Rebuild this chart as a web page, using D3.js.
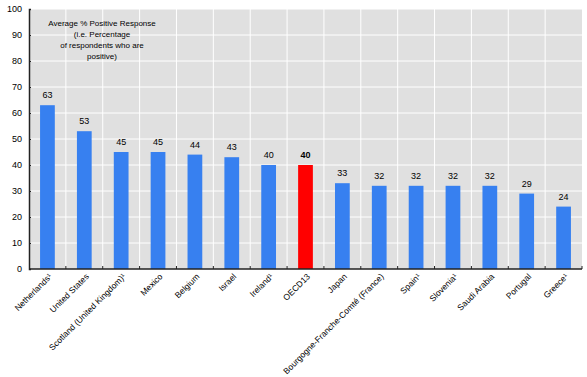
<!DOCTYPE html>
<html>
<head>
<meta charset="utf-8">
<script src="https://cdn.jsdelivr.net/npm/d3@7"></script>
<style>
  body { margin: 0; background: #fff; }
  text { font-family: "Liberation Sans", Arial, sans-serif; fill: #000; }
</style>
</head>
<body>
<script>
var categories = ["Netherlands\u00b9", "United States", "Scotland (United Kingdom)\u00b9", "Mexico", "Belgium",
  "Israel", "Ireland\u00b9", "OECD13", "Japan", "Bourgogne-Franche-Comt\u00e9 (France)", "Spain\u00b9",
  "Slovenia\u00b9", "Saudi Arabia", "Portugal", "Greece\u00b9"];
var values = [63, 53, 45, 45, 44, 43, 40, 40, 33, 32, 32, 32, 32, 29, 24];
var yTicks = [0, 10, 20, 30, 40, 50, 60, 70, 80, 90, 100];
var note = ["Average % Positive Response", "(i.e. Percentage", "of respondents who are", "positive)"];
var highlight = "OECD13";

var WIDTH = 587, HEIGHT = 377;
var LEFT = 29, RIGHT = 582, TOP = 9, BOTTOM = 269;

var svg = d3.select("body").append("svg")
  .attr("width", WIDTH)
  .attr("height", HEIGHT);

var x = d3.scaleBand()
  .domain(categories)
  .range([LEFT, RIGHT])
  .paddingInner(0.6)
  .paddingOuter(0.3);

var xb = d3.scaleBand().domain(categories).range([LEFT, RIGHT]);

var y = d3.scaleLinear()
  .domain([0, 100])
  .range([BOTTOM, TOP]);

// plot background
svg.append("rect")
  .attr("x", LEFT).attr("y", TOP)
  .attr("width", RIGHT - LEFT).attr("height", BOTTOM - TOP)
  .attr("fill", "#e0e0e0");

// horizontal grid
svg.append("g").selectAll("line")
  .data(yTicks.slice(1))
  .enter().append("line")
  .attr("x1", LEFT).attr("x2", RIGHT)
  .attr("y1", function (d) { return y(d); })
  .attr("y2", function (d) { return y(d); })
  .attr("stroke", "#fff").attr("stroke-width", 1);

// vertical grid at band edges
svg.append("g").selectAll("line")
  .data(categories.slice(1))
  .enter().append("line")
  .attr("x1", function (d) { return xb(d); })
  .attr("x2", function (d) { return xb(d); })
  .attr("y1", TOP).attr("y2", BOTTOM)
  .attr("stroke", "#fff").attr("stroke-width", 1);

// bars
svg.append("g").selectAll("rect")
  .data(values)
  .enter().append("rect")
  .attr("x", function (d, i) { return x(categories[i]); })
  .attr("width", x.bandwidth())
  .attr("y", function (d) { return y(d); })
  .attr("height", function (d) { return BOTTOM - y(d); })
  .attr("fill", function (d, i) { return categories[i] === highlight ? "#ff0000" : "#3780f0"; });

// value labels
svg.append("g").selectAll("text")
  .data(values)
  .enter().append("text")
  .attr("x", function (d, i) { return x(categories[i]) + x.bandwidth() / 2; })
  .attr("y", function (d) { return y(d) - 7; })
  .attr("text-anchor", "middle")
  .attr("font-size", "9px")
  .attr("font-weight", function (d, i) { return categories[i] === highlight ? "bold" : "normal"; })
  .text(function (d) { return d; });

// y axis
var yAxis = d3.axisLeft(y).tickValues(yTicks).tickSize(-2).tickPadding(7);
var gy = svg.append("g")
  .attr("transform", "translate(" + LEFT + ",0)")
  .call(yAxis);
gy.select(".domain").attr("stroke", "#222").attr("stroke-width", 1.5);
gy.selectAll(".tick line").attr("stroke", "#222");
gy.selectAll(".tick text").attr("font-size", "9px").attr("font-family", "Liberation Sans, Arial, sans-serif");

// x axis line + ticks at band edges
svg.append("line")
  .attr("x1", LEFT).attr("x2", RIGHT)
  .attr("y1", BOTTOM).attr("y2", BOTTOM)
  .attr("stroke", "#222").attr("stroke-width", 1.5);
svg.append("g").selectAll("line")
  .data(categories.slice(1).concat(["__end"]))
  .enter().append("line")
  .attr("x1", function (d) { return d === "__end" ? RIGHT : xb(d); })
  .attr("x2", function (d) { return d === "__end" ? RIGHT : xb(d); })
  .attr("y1", BOTTOM).attr("y2", BOTTOM - 3)
  .attr("stroke", "#222");

// category labels
svg.append("g").selectAll("text")
  .data(categories)
  .enter().append("text")
  .attr("transform", function (d) {
    return "translate(" + (xb(d) + xb.bandwidth() / 2 + 3) + "," + (BOTTOM + 6) + ") rotate(-45)";
  })
  .attr("text-anchor", "end")
  .attr("dy", "0.35em")
  .attr("font-size", "8.5px")
  .text(function (d) { return d; });

// note
svg.append("g").selectAll("text")
  .data(note)
  .enter().append("text")
  .attr("x", 102)
  .attr("y", function (d, i) { return 26 + i * 11; })
  .attr("text-anchor", "middle")
  .attr("font-size", "8px")
  .text(function (d) { return d; });
</script>
</body>
</html>
